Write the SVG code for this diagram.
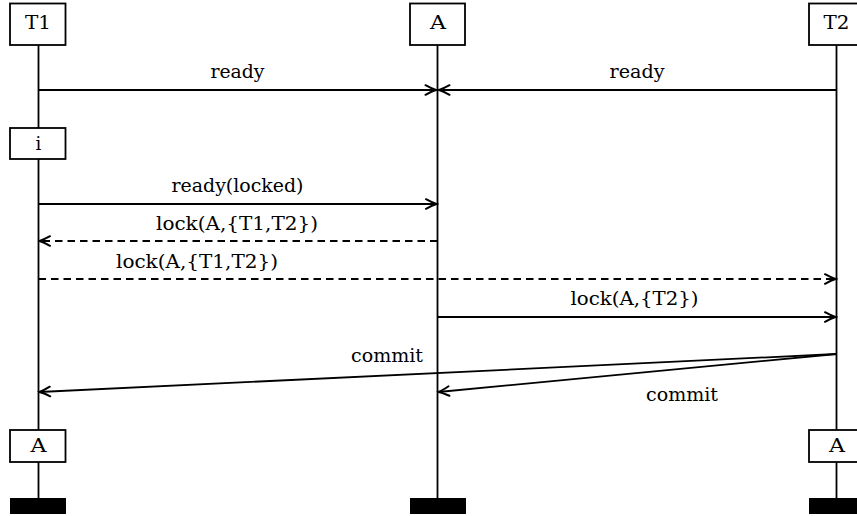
<svg xmlns="http://www.w3.org/2000/svg" width="857" height="516" viewBox="0 0 857 516">
<defs>
<style>
.box{fill:#fff;stroke:#000;stroke-width:1.8}
.bar{fill:#000}
.life{stroke:#000;stroke-width:1.8;fill:none}
.msg{stroke:#000;stroke-width:1.8;fill:none;marker-end:url(#arr)}
.dash{stroke-dasharray:7.5 5}
.t{font-family:'DejaVu Serif', 'Liberation Serif', serif;font-size:18px;fill:#000;text-anchor:middle}
</style>
<marker id="arr" markerUnits="userSpaceOnUse" viewBox="-13 -7 15 14" refX="0" refY="0" markerWidth="15" markerHeight="14" orient="auto">
<path d="M-10.5,-4.8 Q-4,-1.2 0,0 Q-4,1.2 -10.5,4.8" fill="none" stroke="#000" stroke-width="2" stroke-linecap="round"/>
</marker>
</defs>
<rect width="857" height="516" fill="#fff"/>
<g id="lifelines">
<line class="life" x1="38.5" y1="45" x2="38.5" y2="498"/>
<line class="life" x1="437.5" y1="45" x2="437.5" y2="498"/>
<line class="life" x1="836.5" y1="45" x2="836.5" y2="498"/>
</g>
<g id="node-T1"><rect class="box" x="10" y="3.5" width="55.5" height="41.5"/><text class="t" x="38" y="29" textLength="26" lengthAdjust="spacingAndGlyphs">T1</text></g>
<g id="node-A"><rect class="box" x="410" y="3.5" width="55" height="41.5"/><text class="t" x="438" y="29" textLength="16" lengthAdjust="spacingAndGlyphs">A</text></g>
<g id="node-T2"><rect class="box" x="809" y="3.5" width="55" height="41.5"/><text class="t" x="836.5" y="29" textLength="26" lengthAdjust="spacingAndGlyphs">T2</text></g>
<g id="node-i"><rect class="box" x="10" y="128" width="55.5" height="31"/><text class="t" x="38.5" y="150">i</text></g>
<g id="node-A-T1"><rect class="box" x="10" y="430" width="55.5" height="32"/><text class="t" x="38.5" y="452" textLength="16" lengthAdjust="spacingAndGlyphs">A</text></g>
<g id="node-A-T2"><rect class="box" x="809" y="430" width="55" height="32"/><text class="t" x="837" y="452" textLength="16" lengthAdjust="spacingAndGlyphs">A</text></g>
<g id="end-T1"><rect class="bar" x="10" y="498" width="56" height="16"/></g>
<g id="end-A"><rect class="bar" x="410" y="498" width="56" height="16"/></g>
<g id="end-T2"><rect class="bar" x="809" y="498" width="56" height="16"/></g>
<g id="connectors">
<line class="msg" x1="38.5" y1="90" x2="436" y2="90"/>
<line class="msg" x1="836.5" y1="90" x2="439" y2="90"/>
<line class="msg" x1="38.5" y1="204" x2="436.5" y2="204"/>
<line class="msg dash" x1="437.5" y1="241" x2="39.5" y2="241"/>
<line class="msg dash" x1="38.5" y1="279" x2="835.5" y2="279"/>
<line class="msg" x1="437.5" y1="317" x2="835.5" y2="317"/>
<line class="msg" x1="836.5" y1="354" x2="39.5" y2="392"/>
<line class="msg" x1="836.5" y1="354" x2="438.5" y2="392"/>
</g>
<g id="labels">
<text class="t" x="237.5" y="78" textLength="54" lengthAdjust="spacingAndGlyphs">ready</text>
<text class="t" x="637" y="78" textLength="55" lengthAdjust="spacingAndGlyphs">ready</text>
<text class="t" x="237.5" y="192" textLength="132" lengthAdjust="spacingAndGlyphs">ready(locked)</text>
<text class="t" x="237" y="230" textLength="162" lengthAdjust="spacingAndGlyphs">lock(A,{T1,T2})</text>
<text class="t" x="197" y="268" textLength="162" lengthAdjust="spacingAndGlyphs">lock(A,{T1,T2})</text>
<text class="t" x="634.5" y="305" textLength="128" lengthAdjust="spacingAndGlyphs">lock(A,{T2})</text>
<text class="t" x="387" y="362" textLength="72" lengthAdjust="spacingAndGlyphs">commit</text>
<text class="t" x="682" y="401" textLength="72" lengthAdjust="spacingAndGlyphs">commit</text>
</g>
</svg>
